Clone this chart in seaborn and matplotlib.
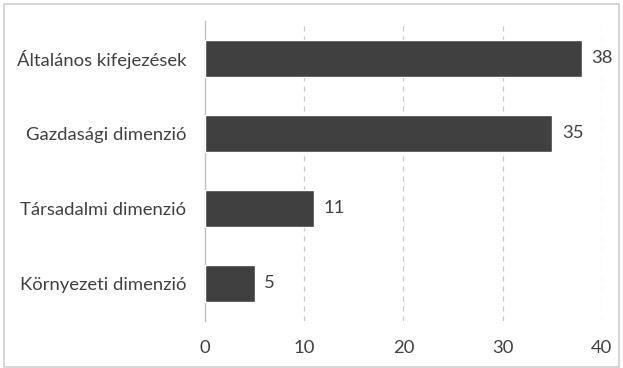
import matplotlib
matplotlib.use("Agg")
import matplotlib.pyplot as plt
import seaborn as sns
import pandas as pd
from matplotlib.patches import Rectangle

categories = ["Általános kifejezések", "Gazdasági dimenzió", "Társadalmi dimenzió", "Környezeti dimenzió"]
values = [38, 35, 11, 5]
x_ticks = [0, 10, 20, 30, 40]

df = pd.DataFrame({"kategoria": categories, "ertek": values})

sns.set_theme(style="white")
plt.rcParams["font.family"] = ["Lato", "DejaVu Sans"]

text_color = "#404040"
bar_color = "#404040"
grid_color = "#c8c8c8"
fs = 13.3

fig = plt.figure(figsize=(6.23, 3.68), dpi=100)
ax = fig.add_axes([0.329, 0.128, 0.637, 0.815])

sns.barplot(data=df, x="ertek", y="kategoria", orient="h", color=bar_color,
            width=0.5, saturation=1, ax=ax, zorder=3)

ax.set_xlim(0, 40)
ax.set_ylim(3.5, -0.5)
ax.set_xticks(x_ticks)
ax.set_xticklabels([str(t) for t in x_ticks])
ax.set_xlabel("")
ax.set_ylabel("")

for t in x_ticks[1:]:
    ax.axvline(t, color=grid_color, linestyle=(0, (4, 4)), linewidth=0.9, zorder=1)

for s in ["top", "right", "bottom"]:
    ax.spines[s].set_visible(False)
ax.spines["left"].set_color("#bfbfbf")
ax.spines["left"].set_linewidth(1.0)

ax.tick_params(axis="both", length=0, labelsize=fs, colors=text_color)
ax.tick_params(axis="x", pad=14)
ax.tick_params(axis="y", pad=13.5)

for container in ax.containers:
    ax.bar_label(container, labels=[str(v) for v in values], padding=7,
                 fontsize=fs, color=text_color)

fig.patches.append(Rectangle((0.006, 0.004), 0.988, 0.986, transform=fig.transFigure,
                             fill=False, edgecolor="#d0d0d0", linewidth=1.2))

fig.savefig("out.png", dpi=100, facecolor="white")
